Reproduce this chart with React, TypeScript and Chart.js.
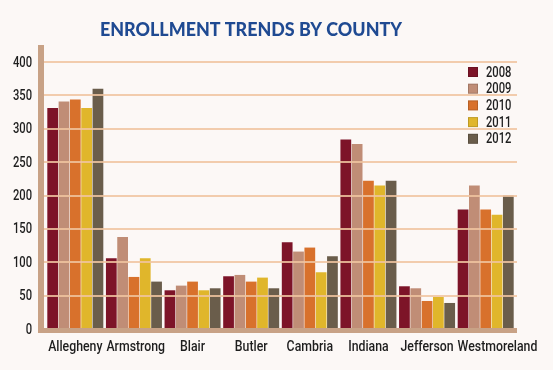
import React, { useEffect, useRef } from "react";
import { Chart, registerables } from "chart.js";

Chart.register(...registerables);

const categories = ["Allegheny", "Armstrong", "Blair", "Butler", "Cambria", "Indiana", "Jefferson", "Westmoreland"];
const years = ["2008", "2009", "2010", "2011", "2012"];
const v2008 = [331, 106, 58, 79, 130, 284, 64, 179];
const v2009 = [341, 138, 65, 81, 116, 277, 61, 215];
const v2010 = [344, 78, 71, 71, 122, 222, 42, 179];
const v2011 = [331, 106, 58, 77, 85, 215, 48, 171];
const v2012 = [360, 71, 61, 61, 109, 222, 39, 200];
const yTicks = [0, 50, 100, 150, 200, 250, 300, 350, 400];
const colors = ["#7d1428", "#c08d76", "#d8712c", "#e0b62b", "#6a5d4b"];
const titleText = "ENROLLMENT TRENDS BY COUNTY";

const FONT = "Roboto, 'Liberation Sans', sans-serif";
const BG = "#fcf8f6";
const AXIS = "#c8a286";
const GRID = "rgba(240, 196, 160, 0.85)";
const TEXT = "#1e1e1e";

function drawNarrow(ctx: any, text: string, x: number, y: number, align: string, sx: number) {
  ctx.save();
  ctx.translate(x, y);
  ctx.scale(sx, 1);
  ctx.textAlign = align;
  ctx.fillText(text, 0, 0);
  ctx.restore();
}

const decorPlugin = {
  id: "decor",
  beforeDraw(chart: any) {
    const { ctx, width, height } = chart;
    ctx.save();
    ctx.fillStyle = BG;
    ctx.fillRect(0, 0, width, height);
    ctx.restore();
  },
  afterDatasetsDraw(chart: any) {
    const { ctx, chartArea } = chart;
    const y = chart.scales.y;
    const x = chart.scales.x;
    ctx.save();
    // gridlines over bars
    ctx.strokeStyle = GRID;
    ctx.lineWidth = 2;
    yTicks.forEach((t) => {
      if (t === 0) return;
      const py = Math.round(y.getPixelForValue(t));
      ctx.beginPath();
      ctx.moveTo(chartArea.left - 2, py);
      ctx.lineTo(chartArea.right + 2, py);
      ctx.stroke();
    });
    // axis bars
    ctx.fillStyle = AXIS;
    const base = y.getPixelForValue(0);
    ctx.fillRect(chartArea.left - 8, chartArea.top - 17, 6, base - chartArea.top + 21);
    ctx.fillRect(chartArea.left - 8, base - 1, chartArea.right - chartArea.left + 10, 5);
    // y tick labels
    ctx.fillStyle = TEXT;
    ctx.textBaseline = "middle";
    ctx.font = "500 14px " + FONT;
    yTicks.forEach((t) => {
      drawNarrow(ctx, String(t), chartArea.left - 14, y.getPixelForValue(t) + 1, "right", 0.8);
    });
    // x tick labels (shifted right only when they would collide with the previous one)
    ctx.font = "500 15px " + FONT;
    const sxX = 0.82;
    let prevRight = -Infinity;
    categories.forEach((c, i) => {
      const w = ctx.measureText(c).width * sxX;
      let left = x.getPixelForTick(i) - w / 2;
      if (left < prevRight + 4) left = prevRight + 4;
      drawNarrow(ctx, c, left, 347, "left", sxX);
      prevRight = left + w;
    });
    // title
    ctx.fillStyle = "#1f4a92";
    ctx.font = "900 18px Lato, 'Liberation Sans', sans-serif";
    const tw = ctx.measureText(titleText).width;
    drawNarrow(ctx, titleText, 251, 30, "center", 302 / tw);
    // legend
    ctx.font = "500 14px " + FONT;
    chart.data.datasets.forEach((ds: any, i: number) => {
      const cy = 72 + i * 16.7;
      ctx.fillStyle = ds.backgroundColor;
      ctx.fillRect(468, cy - 5, 10, 10);
      ctx.strokeStyle = "rgba(0,0,0,0.15)";
      ctx.lineWidth = 1;
      ctx.strokeRect(468.5, cy - 4.5, 9, 9);
      ctx.fillStyle = TEXT;
      drawNarrow(ctx, ds.label, 486, cy + 1, "left", 0.8);
    });
    ctx.restore();
  },
};

export default function App() {
  const ref = useRef<HTMLCanvasElement | null>(null);
  useEffect(() => {
    document.body.style.margin = "0";
    document.body.style.background = BG;
    if (!ref.current) return;
    const series = [v2008, v2009, v2010, v2011, v2012];
    const chart = new Chart(ref.current, {
      type: "bar",
      data: {
        labels: categories,
        datasets: years.map((yr, i) => ({
          label: yr,
          data: series[i],
          backgroundColor: colors[i],
          borderWidth: 0,
          barPercentage: 0.95,
          categoryPercentage: 0.965,
        })),
      },
      options: {
        animation: false,
        responsive: false,
        maintainAspectRatio: false,
        layout: { padding: { top: 62, right: 38, left: 0, bottom: 0 } },
        plugins: { legend: { display: false }, title: { display: false }, tooltip: { enabled: false } },
        scales: {
          x: {
            grid: { display: false, drawTicks: false },
            border: { display: false },
            ticks: { display: false, autoSkip: false },
            afterFit: (s: any) => { s.height = 41; },
          },
          y: {
            min: 0,
            max: 400,
            grid: { display: false, drawTicks: false },
            border: { display: false },
            ticks: { display: false, stepSize: 50 },
            afterFit: (s: any) => { s.width = 46; },
          },
        },
      },
      plugins: [decorPlugin],
    });
    return () => chart.destroy();
  }, []);
  return (
    <div style={{ width: 553, height: 370 }}>
      <canvas ref={ref} width={553} height={370} style={{ display: "block" }} />
    </div>
  );
}
